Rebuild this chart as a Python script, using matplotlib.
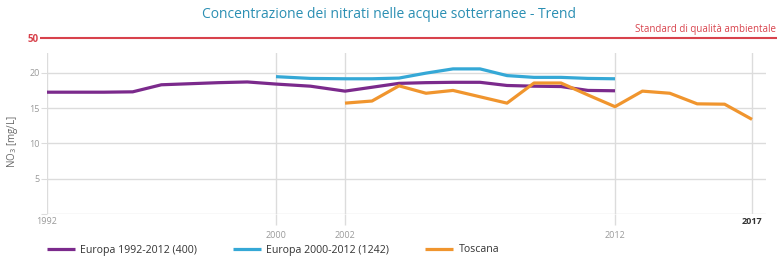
import numpy as np
import matplotlib
matplotlib.use("Agg")
import matplotlib.pyplot as plt

plt.rcParams['font.family'] = ['Open Sans', 'DejaVu Sans']

# ---- data ----
years_eu1 = [1992, 1993, 1994, 1995, 1996, 1997, 1998, 1999, 2000, 2001, 2002,
             2003, 2004, 2005, 2006, 2007, 2008, 2009, 2010, 2011, 2012]
eu1 = [17.25, 17.25, 17.25, 17.3, 18.3, 18.45, 18.6, 18.7, 18.4, 18.1, 17.4,
       17.95, 18.5, 18.6, 18.65, 18.65, 18.2, 18.1, 18.05, 17.5, 17.45]

years_eu2 = [2000, 2001, 2002, 2003, 2004, 2005, 2006, 2007, 2008, 2009, 2010, 2011, 2012]
eu2 = [19.45, 19.2, 19.15, 19.15, 19.25, 19.95, 20.55, 20.55, 19.6, 19.35, 19.35, 19.2, 19.15]

years_tos = [2002, 2003, 2004, 2005, 2006, 2007, 2008, 2009, 2010, 2011, 2012,
             2013, 2014, 2015, 2016, 2017]
tos = [15.7, 16.0, 18.15, 17.1, 17.5, 16.6, 15.7, 18.55, 18.55, 16.85, 15.2,
       17.4, 17.1, 15.6, 15.55, 13.4]

standard = 50
xtick_years = [1992, 2000, 2002, 2012, 2017]
ytick_vals = [0, 5, 10, 15, 20]

labels = ["Europa 1992-2012 (400)", "Europa 2000-2012 (1242)", "Toscana"]
colors = ["#7b2a8c", "#35a8d6", "#f0952e"]

# piecewise (non-uniform) year scale of the original chart
anc_year = np.array([1990, 1992, 2000, 2002, 2012, 2017, 2019])
anc_pos = np.array([-10.0, 46.7, 276, 345, 615, 752, 807])
def fwd(x):
    return np.interp(x, anc_year, anc_pos)
def inv(p):
    return np.interp(p, anc_pos, anc_year)

W, H = 777, 259
fig = plt.figure(figsize=(W / 100, H / 100), dpi=100)

def px_ax(x0, y0, x1, y1):
    return fig.add_axes([x0 / W, 1 - y1 / H, (x1 - x0) / W, (y1 - y0) / H])

ax = px_ax(46.7, 53, 766, 214)
ax.set_xscale('function', functions=(fwd, inv))
ax.set_xlim(1992, inv(766))
ax.set_ylim(0, 22.8)

grid_c = "#dcdcdc"
for s in ax.spines.values():
    s.set_visible(False)
ax.set_yticks(ytick_vals)
ax.set_yticklabels([""] + [str(v) for v in ytick_vals[1:]])
ax.set_xticks(xtick_years)
ax.set_xticklabels([str(y) for y in xtick_years])
ax.grid(True, color=grid_c, lw=1.0)
ax.set_axisbelow(True)
ax.tick_params(axis='y', length=4, color=grid_c, labelsize=6.5, labelcolor="#9a9a9a", pad=1)
ax.tick_params(axis='x', length=8, width=1.0, color=grid_c, labelsize=6.5,
               labelcolor="#9a9a9a", pad=4)
for t, y in zip(ax.xaxis.get_major_ticks(), xtick_years):
    if y in (1992, 2017):
        t.tick1line.set_visible(False)
        t.set_pad(-6)
    if y == 2017:
        t.label1.set_fontweight('bold')
        t.label1.set_color("#333333")

ax.plot(years_eu1, eu1, color=colors[0], lw=2.3, label=labels[0], solid_capstyle='butt')
ax.plot(years_eu2, eu2, color=colors[1], lw=2.3, label=labels[1], solid_capstyle='butt')
ax.plot(years_tos, tos, color=colors[2], lw=2.3, label=labels[2], solid_capstyle='butt')

ax.set_ylabel("NO$_3$ [mg/L]", fontsize=7, color="#666666")
ax.yaxis.set_label_coords((20 - 46.7) / 719.3, (214 - 142) / 161)

# standard line (broken axis above)
red = "#d8424c"
ax2 = px_ax(40, 33, 777, 43)
ax2.set_ylim(standard - 1, standard + 1)
ax2.set_xlim(0, 1)
ax2.axhline(standard, color=red, lw=1.5)
for s in ax2.spines.values():
    s.set_visible(False)
ax2.set_xticks([])
ax2.set_yticks([standard])
ax2.set_yticklabels([str(standard)])
ax2.tick_params(axis='y', length=0, pad=1, labelsize=7)
for lab in ax2.get_yticklabels():
    lab.set_color(red)
    lab.set_fontweight('bold')
ax2.patch.set_visible(False)
fig.text(776 / W, 1 - 32 / H, "Standard di qualità ambientale", color=red,
         fontsize=7, ha='right', va='baseline')

fig.text(0.5, 1 - 15 / H, "Concentrazione dei nitrati nelle acque sotterranee - Trend",
         color="#2b8fb3", fontsize=10, ha='center', va='center')

leg = fig.legend(loc='center left', bbox_to_anchor=(43 / W, 1 - 250 / H), ncol=3,
                 frameon=False, fontsize=7.6, handlelength=2.6, columnspacing=3.4,
                 handletextpad=0.55, borderaxespad=0)
for txt in leg.get_texts():
    txt.set_color("#333333")

fig.savefig("out.png", dpi=100)
